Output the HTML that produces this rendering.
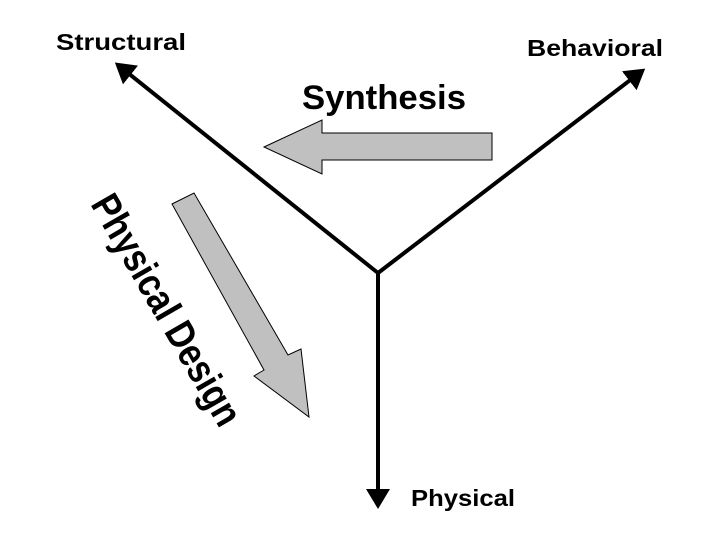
<!DOCTYPE html>
<html><head><style>html,body{margin:0;padding:0;background:#fff;width:720px;height:540px;overflow:hidden}</style></head>
<body>
<svg width="720" height="540" xmlns="http://www.w3.org/2000/svg">
<defs>
<marker id="ah" markerWidth="6" markerHeight="6" refX="4" refY="3" orient="auto" markerUnits="strokeWidth">
<path d="M0,0 L5,3 L0,6 z" fill="#000"/></marker>
</defs>
<g stroke="#000" stroke-width="4" fill="none">
<line x1="378" y1="273" x2="118" y2="65" marker-end="url(#ah)"/>
<line x1="378" y1="273" x2="642" y2="71" marker-end="url(#ah)"/>
<line x1="378" y1="273" x2="378" y2="505" marker-end="url(#ah)"/>
</g>
<polygon points="264,147 322,120 322,133 492,133 492,160 322,160 322,174" fill="#c0c0c0" stroke="#000" stroke-width="1"/>
<polygon points="172,204 194,193 288,355 301,349 309,417 254,376 264,370" fill="#c0c0c0" stroke="#000" stroke-width="1"/>
<g font-family="Liberation Sans, sans-serif" font-weight="bold" fill="#000">
<text x="56" y="50" font-size="23" textLength="130" lengthAdjust="spacingAndGlyphs">Structural</text>
<text x="527" y="56" font-size="23" textLength="136" lengthAdjust="spacingAndGlyphs">Behavioral</text>
<text x="411" y="506" font-size="23" textLength="104" lengthAdjust="spacingAndGlyphs">Physical</text>
<text x="302" y="109" font-size="34" textLength="164" lengthAdjust="spacingAndGlyphs">Synthesis</text>
<text x="0" y="0" font-size="40" textLength="260" lengthAdjust="spacingAndGlyphs" transform="translate(90,204) rotate(60)">Physical Design</text>
</g>
</svg>
</body></html>
